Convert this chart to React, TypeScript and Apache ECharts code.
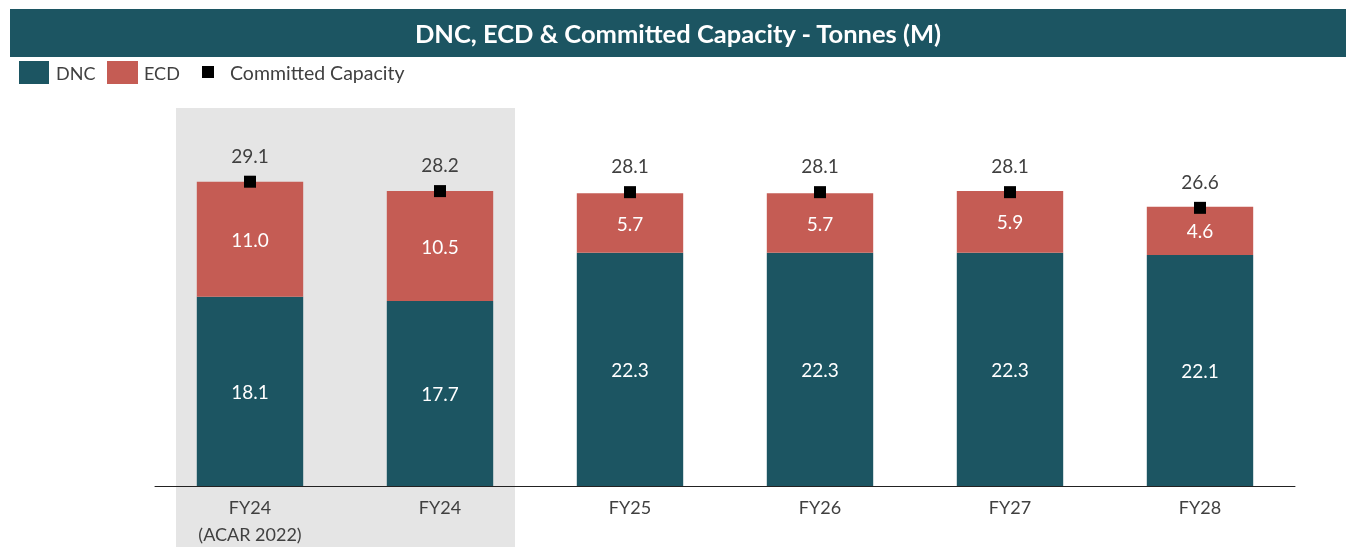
import React, { useEffect, useRef } from "react";
import * as echarts from "echarts";

const categories = ["FY24\n(ACAR 2022)", "FY24", "FY25", "FY26", "FY27", "FY28"];
const dncValues = [18.1, 17.7, 22.3, 22.3, 22.3, 22.1];
const ecdValues = [11.0, 10.5, 5.7, 5.7, 5.9, 4.6];
const committedCapacity = [29.1, 28.2, 28.1, 28.1, 28.1, 26.6];

const TEAL = "#1c5562";
const RED = "#c55c54";
const TEXT = "#404040";
const FONT = "Lato, 'Open Sans', sans-serif";

export default function App() {
  const ref = useRef<HTMLDivElement>(null);
  useEffect(() => {
    if (!ref.current) return;
    const chart = echarts.init(ref.current, null, { renderer: "svg" });
    chart.setOption({
      animation: false,
      textStyle: { fontFamily: FONT },
      grid: { left: 155, right: 59, top: 120, bottom: 60 },
      xAxis: {
        type: "category",
        data: categories,
        axisLine: { lineStyle: { color: "#222", width: 1 } },
        axisTick: { show: false },
        axisLabel: { fontSize: 18, color: TEXT, margin: 7, lineHeight: 27, fontFamily: FONT },
      },
      yAxis: { type: "value", min: 0, max: 35, show: false },
      graphic: [
        { type: "rect", z: -10, shape: { x: 176, y: 108, width: 339, height: 439 }, style: { fill: "#e5e5e5" }, silent: true },
        { type: "rect", shape: { x: 10, y: 9, width: 1336, height: 48 }, style: { fill: TEAL } },
        {
          type: "text", x: 678, y: 33,
          style: { text: "DNC, ECD & Committed Capacity - Tonnes (M)", fill: "#fff", font: `bold 25.5px ${FONT}`, align: "center", verticalAlign: "middle" },
        },
        { type: "rect", shape: { x: 19, y: 61, width: 30, height: 23 }, style: { fill: TEAL } },
        { type: "text", x: 56, y: 72.5, style: { text: "DNC", fill: TEXT, font: `18px ${FONT}`, verticalAlign: "middle" } },
        { type: "rect", shape: { x: 107, y: 61, width: 31, height: 23 }, style: { fill: RED } },
        { type: "text", x: 144, y: 72.5, style: { text: "ECD", fill: TEXT, font: `18px ${FONT}`, verticalAlign: "middle" } },
        { type: "rect", shape: { x: 202, y: 66, width: 12, height: 12 }, style: { fill: "#000" } },
        { type: "text", x: 230, y: 72.5, style: { text: "Committed Capacity", fill: TEXT, font: `19.5px ${FONT}`, verticalAlign: "middle" } },
      ],
      series: [
        {
          name: "DNC", type: "bar", stack: "total", data: dncValues, barWidth: "56%",
          itemStyle: { color: TEAL },
          label: { show: true, position: "inside", color: "#fff", fontSize: 19, fontFamily: FONT, formatter: (p: any) => p.value.toFixed(1) },
        },
        {
          name: "ECD", type: "bar", stack: "total", data: ecdValues, barWidth: "56%",
          itemStyle: { color: RED },
          label: { show: true, position: "inside", color: "#fff", fontSize: 19, fontFamily: FONT, formatter: (p: any) => p.value.toFixed(1) },
        },
        {
          name: "Committed Capacity", type: "scatter", data: committedCapacity, symbol: "rect", symbolSize: 12,
          itemStyle: { color: "#000", opacity: 1 }, z: 5,
          label: { show: true, position: "top", distance: 11, color: TEXT, fontSize: 19, fontFamily: FONT, formatter: (p: any) => p.value.toFixed(1) },
        },
      ],
    });
    return () => chart.dispose();
  }, []);
  return <div ref={ref} style={{ position: "fixed", left: 0, top: 0, width: 1354, height: 547 }} />;
}
